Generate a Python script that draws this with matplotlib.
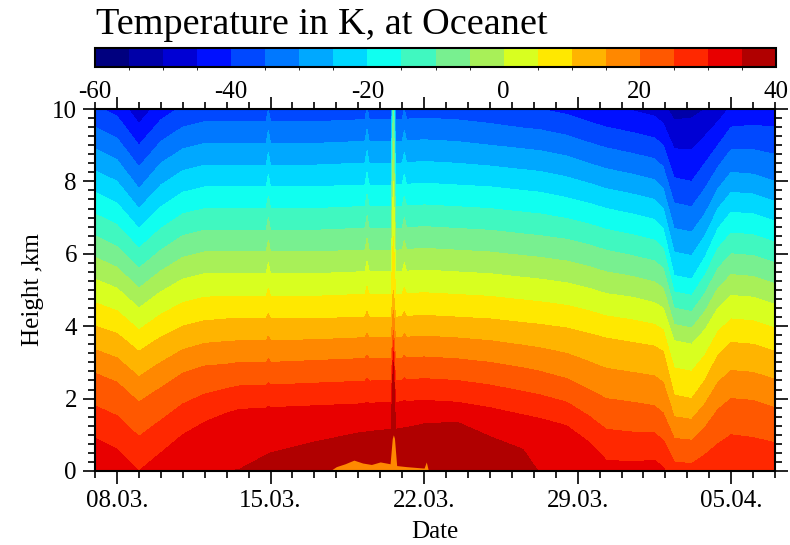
import matplotlib

matplotlib.use("Agg")
import matplotlib.pyplot as plt
import numpy as np
from matplotlib.colors import ListedColormap, BoundaryNorm
from matplotlib.cm import ScalarMappable
from matplotlib.ticker import MultipleLocator

plt.rcParams["font.family"] = ["Liberation Serif", "DejaVu Serif"]
plt.rcParams["axes.unicode_minus"] = False

# days after 07.03. 00:00
days = [0, 1, 2, 3, 4, 5, 6, 6.6, 7.8, 7.9, 8, 10, 12, 12.3, 12.4, 12.5, 13.5, 13.6,
        13.7, 14.0, 14.1, 14.2, 15, 16.5, 18, 19.5, 20.3, 21.5, 22.5, 23.3, 24.5,
        25.5, 25.9, 26.4, 27.2, 27.8, 28.4, 29, 30, 31]

# height (km) of the isotherms
z_p35 = [-0.4, -0.6, -1.0, -0.6, -0.3, -0.1, -0.02, 0.05, 0.44, 0.47, 0.5, 0.8, 1.05,
         1.07, 1.08, 1.09, 1.15, 3.0, 1.15, 1.18, 1.2, 1.2, 1.3, 1.35, 0.95, 0.6, -0.1,
         -0.3, -0.5, -0.6, -0.6, -0.6, -0.7, -1.3, -1.4, -1.2, -1.0, -0.8, -0.9, -1.0]
z_p30 = [0.9, 0.6, 0.0, 0.5, 1.0, 1.35, 1.6, 1.7, 1.74, 1.78, 1.75, 1.8, 1.85,
         1.86, 1.9, 1.87, 1.9, 3.3, 1.9, 1.91, 1.95, 1.92, 1.95, 1.9, 1.75, 1.55, 1.45,
         1.25, 0.8, 0.3, 0.25, 0.3, 0.1, -0.4, -0.45, -0.3, -0.2, 0.0, -0.1, -0.2]
z_p20 = [2.7, 2.45, 1.9, 2.3, 2.7, 2.9, 2.95, 3.0, 3.0, 3.1, 3.0, 3.05, 3.1,
         3.1, 3.2, 3.1, 3.1, 3.9, 3.1, 3.11, 3.2, 3.12, 3.15, 3.1, 3.0, 2.85, 2.75,
         2.55, 2.25, 2.0, 1.9, 1.8, 1.6, 0.9, 0.85, 1.2, 1.7, 2.0, 1.95, 1.75]
z_p10 = [4.0, 3.8, 3.3, 3.7, 4.0, 4.15, 4.2, 4.2, 4.2, 4.35, 4.2, 4.2, 4.25,
         4.25, 4.4, 4.25, 4.25, 5.0, 4.25, 4.26, 4.4, 4.27, 4.3, 4.25, 4.2, 4.1, 4.05,
         3.95, 3.8, 3.67, 3.55, 3.45, 3.3, 2.1, 2.0, 2.5, 3.2, 3.55, 3.5, 3.3]
z_0 = [5.3, 5.05, 4.5, 4.95, 5.3, 5.45, 5.45, 5.45, 5.45, 5.75, 5.45, 5.45, 5.5,
       5.5, 5.8, 5.5, 5.5, 8.0, 5.5, 5.51, 5.75, 5.52, 5.55, 5.5, 5.45, 5.35, 5.3,
       5.2, 5.05, 4.9, 4.8, 4.65, 4.5, 3.6, 3.5, 3.9, 4.5, 4.85, 4.8, 4.6]
z_m10 = [6.5, 6.2, 5.6, 6.1, 6.5, 6.65, 6.65, 6.65, 6.65, 7.0, 6.65, 6.65, 6.7,
         6.7, 7.05, 6.7, 6.7, 10.2, 6.7, 6.71, 7.0, 6.72, 6.75, 6.7, 6.65, 6.55, 6.5,
         6.4, 6.25, 6.1, 5.95, 5.8, 5.6, 4.5, 4.4, 4.9, 5.6, 6.0, 5.95, 5.75]
z_m20 = [7.7, 7.4, 6.7, 7.3, 7.7, 7.85, 7.85, 7.85, 7.85, 8.2, 7.85, 7.85, 7.9,
         7.9, 8.25, 7.9, 7.9, 11.4, 7.9, 7.91, 8.2, 7.92, 7.95, 7.9, 7.85, 7.75, 7.7,
         7.55, 7.4, 7.25, 7.1, 6.95, 6.7, 5.4, 5.3, 5.9, 6.7, 7.15, 7.1, 6.9]
z_m30 = [8.9, 8.6, 7.8, 8.5, 8.9, 9.05, 9.05, 9.05, 9.05, 9.4, 9.05, 9.05, 9.1,
         9.1, 9.45, 9.1, 9.1, 12.6, 9.1, 9.11, 9.4, 9.12, 9.15, 9.1, 9.0, 8.9, 8.85,
         8.7, 8.5, 8.35, 8.2, 8.05, 7.8, 6.7, 6.6, 7.1, 7.8, 8.25, 8.2, 8.0]
z_m40 = [10.1, 9.8, 9.0, 9.7, 10.1, 10.25, 10.25, 10.25, 10.25, 10.6, 10.25, 10.25, 10.3,
         10.3, 10.65, 10.3, 10.3, 13.8, 10.3, 10.31, 10.6, 10.32, 10.35, 10.3, 10.2, 10.05,
         10.0, 9.85, 9.65, 9.5, 9.35, 9.2, 9.0, 8.1, 8.0, 8.5, 9.0, 9.5, 9.55, 9.5]
z_m50 = [11.3, 11.0, 10.2, 10.9, 11.3, 11.45, 11.45, 11.45, 11.45, 11.8, 11.45, 11.45, 11.5,
         11.5, 11.85, 11.5, 11.5, 15.0, 11.5, 11.51, 11.8, 11.52, 11.55, 11.5, 11.4, 11.25,
         11.2, 11.05, 10.85, 10.7, 10.55, 10.4, 10.2, 9.7, 9.75, 10.0, 10.3, 10.7, 10.75, 10.7]
iso_temps = [35, 30, 20, 10, 0, -10, -20, -30, -40, -50]

# shallow cool layer near the surface
inv_days = [10.7, 11.0, 11.4, 11.8, 12.2, 12.6, 13.0, 13.45, 13.55, 13.6, 13.65,
            13.75, 14.2, 14.6, 15.0, 15.1, 15.2]
inv_top = [0.0, 0.12, 0.2, 0.3, 0.22, 0.18, 0.25, 0.2, 0.9, 1.0, 0.9,
           0.15, 0.12, 0.1, 0.08, 0.25, 0.0]
inv_temp = 17.5

bounds = list(range(-60, 45, 5))
band_colors = ["#00007f", "#0000a8", "#0000d4", "#0010ff", "#0048ff", "#0078ff",
               "#00a8ff", "#00d8ff", "#10fff0", "#40f8c0", "#78f090", "#a8f058",
               "#d8ff20", "#ffe800", "#ffb400", "#ff8800", "#ff5800", "#ff2800",
               "#e80000", "#b00000"]
cmap = ListedColormap(band_colors)
norm = BoundaryNorm(bounds, cmap.N)

date_ticks = [1, 8, 15, 22, 29]
date_labels = ["08.03.", "15.03.", "22.03.", "29.03.", "05.04."]

# curvilinear grid: one row per isotherm, plus a warm row below and a cold row above
n = len(days)
rows_z = [[-3.0] * n, z_p35, z_p30, z_p20, z_p10, z_0, z_m10, z_m20, z_m30, z_m40,
          z_m50, [16.0] * n]
rows_t = [38.0] + iso_temps + [-60.0]
Y = np.array(rows_z)
X = np.tile(np.array(days, dtype=float), (len(rows_z), 1))
Z = np.repeat(np.array(rows_t, dtype=float)[:, None], n, axis=1)

fig = plt.figure(figsize=(7.9, 5.45), dpi=100)
ax = fig.add_axes([0.1203, 0.1358, 0.8608, 0.6642])
cax = fig.add_axes([0.1203, 0.877, 0.862, 0.0349])

ax.contourf(X, Y, Z, levels=bounds, cmap=cmap, norm=norm)
ax.fill_between(inv_days, 0, inv_top, color=cmap(norm(inv_temp)), lw=0)

ax.set_xlim(0, 31)
ax.set_ylim(0, 10)
ax.set_xticks(date_ticks)
ax.set_xticklabels(date_labels)
ax.xaxis.set_minor_locator(MultipleLocator(1))
ax.yaxis.set_major_locator(MultipleLocator(2))
ax.yaxis.set_minor_locator(MultipleLocator(0.25))
ax.tick_params(which="both", direction="out", top=True, right=True, width=1.2,
               labelsize=18, colors="black")
ax.tick_params(which="major", length=9)
ax.tick_params(which="minor", length=5)
ax.tick_params(axis="y", pad=4)
ax.tick_params(axis="x", pad=5)
for sp in ax.spines.values():
    sp.set_linewidth(1.5)
ax.set_xlabel("Date", fontsize=18, labelpad=6)
ax.set_ylabel("Height ,km", fontsize=18, labelpad=6)

sm = ScalarMappable(norm=norm, cmap=cmap)
cb = fig.colorbar(sm, cax=cax, orientation="horizontal", ticks=list(range(-60, 41, 20)))
cb.outline.set_linewidth(1.5)
cax.tick_params(length=0, labelsize=18, pad=10)

fig.text(0.122, 1 - 25 / 545, "Temperature in K, at Oceanet", fontsize=27.5,
         va="center", ha="left")

fig.savefig("out.png", dpi=100)
